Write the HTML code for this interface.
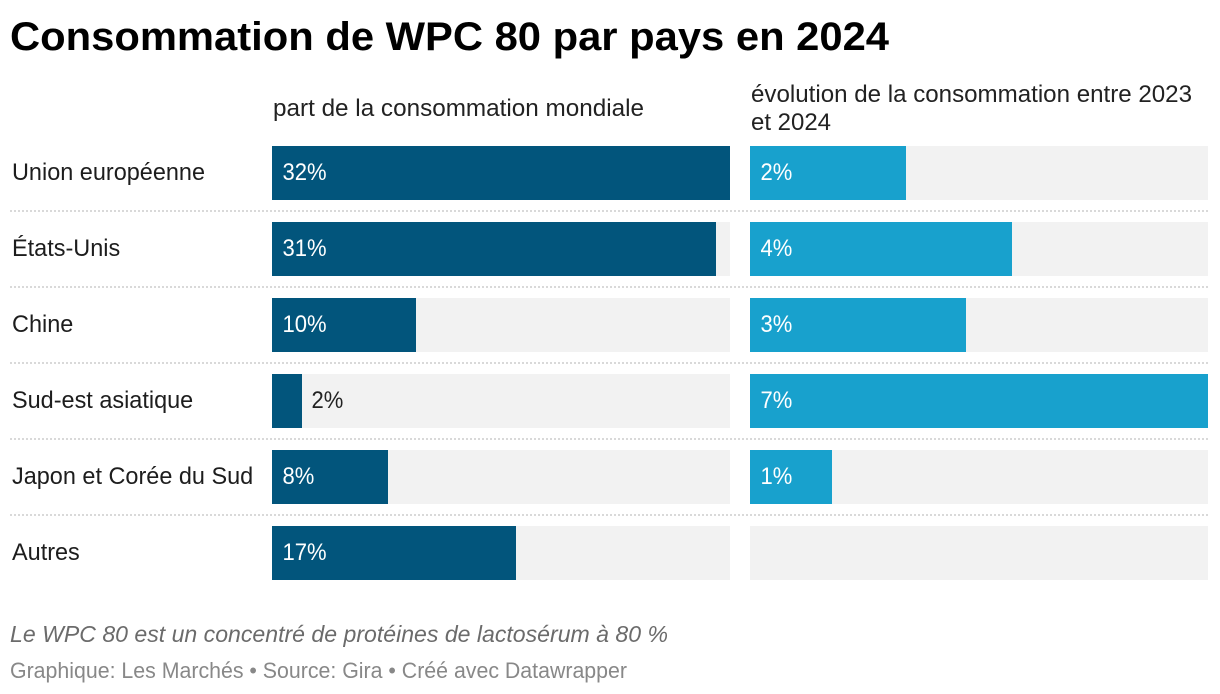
<!DOCTYPE html>
<html lang="fr">
<head>
<meta charset="utf-8">
<title>Consommation de WPC 80 par pays en 2024</title>
<style>
  html, body { margin: 0; padding: 0; background: #ffffff; }
  body { width: 1220px; height: 694px; overflow: hidden; }
  svg { display: block; font-family: "Liberation Sans", Arial, sans-serif; }
</style>
</head>
<body>
<svg id="chart" xmlns="http://www.w3.org/2000/svg" width="1220" height="694" viewBox="0 0 1220 694">
  <text x="10" y="50" font-size="40" font-weight="700" fill="#000000" textLength="879" lengthAdjust="spacingAndGlyphs">Consommation de WPC 80 par pays en 2024</text>
  <text x="273" y="116" font-size="24" fill="#222222" textLength="371" lengthAdjust="spacingAndGlyphs">part de la consommation mondiale</text>
  <text x="751" y="102" font-size="24" fill="#222222" textLength="441" lengthAdjust="spacingAndGlyphs">évolution de la consommation entre 2023</text>
  <text x="751" y="130" font-size="24" fill="#222222" textLength="80" lengthAdjust="spacingAndGlyphs">et 2024</text>
  <g id="rows"></g>
  <text x="10" y="642" font-size="23" font-style="italic" fill="#6b6b6b" textLength="658" lengthAdjust="spacingAndGlyphs">Le WPC 80 est un concentré de protéines de lactosérum à 80 %</text>
  <text x="10" y="678" font-size="22" fill="#888888" textLength="617" lengthAdjust="spacingAndGlyphs">Graphique: Les Marchés • Source: Gira • Créé avec Datawrapper</text>
</svg>
<script>
const categories = ["Union européenne", "États-Unis", "Chine", "Sud-est asiatique", "Japon et Corée du Sud", "Autres"];
const shareValues = [32, 31, 10.06, 2.1, 8.1, 17.05];
const shareLabels = ["32%", "31%", "10%", "2%", "8%", "17%"];
const growthValues = [2.38, 4, 3.3, 7, 1.25, null];
const growthLabels = ["2%", "4%", "3%", "7%", "1%", ""];

const NS = "http://www.w3.org/2000/svg";
const rowsLayer = document.getElementById("rows");
const rowTop = 146, rowStep = 76, barHeight = 54;
const shareLeft = 272, growthLeft = 750, panelWidth = 458;
const shareMax = Math.max(...shareValues);
const growthMax = Math.max(...growthValues.filter(v => v !== null));

function shareX(v) { return Math.round(v / shareMax * panelWidth); }
function growthX(v) { return Math.round(v / growthMax * panelWidth); }
function rowY(i) { return rowTop + i * rowStep; }

function makeRect(x, y, w, h, fill) {
  const r = document.createElementNS(NS, "rect");
  r.setAttribute("x", x);
  r.setAttribute("y", y);
  r.setAttribute("width", w);
  r.setAttribute("height", h);
  r.setAttribute("fill", fill);
  r.setAttribute("shape-rendering", "crispEdges");
  rowsLayer.appendChild(r);
  return r;
}

function makeText(str, x, y, fill, fit) {
  const t = document.createElementNS(NS, "text");
  t.setAttribute("x", x);
  t.setAttribute("y", y);
  t.setAttribute("font-size", "24");
  t.setAttribute("fill", fill);
  t.textContent = str;
  rowsLayer.appendChild(t);
  const natural = t.getComputedTextLength();
  t.setAttribute("textLength", (natural * fit).toFixed(1));
  t.setAttribute("lengthAdjust", "spacingAndGlyphs");
  return t;
}

function drawValueLabel(str, barStart, barWidth, y) {
  const inside = barWidth > 50;
  const x = inside ? barStart + 10.5 : barStart + barWidth + 9.5;
  return makeText(str, x, y, inside ? "#ffffff" : "#222222", 0.917);
}

categories.forEach((name, i) => {
  const y = rowY(i);
  const baseline = y + 34;

  const rowLabel = makeText(name, 12, baseline, "#1d1d1d", 0.977);
  
  

  const shareTrack = makeRect(shareLeft, y, panelWidth, barHeight, "#f2f2f2");
  
  

  const shareW = shareX(shareValues[i]);
  const shareBar = makeRect(shareLeft, y, shareW, barHeight, "#02557c");
  
  

  const shareText = drawValueLabel(shareLabels[i], shareLeft, shareW, baseline);
  
  

  const growthTrack = makeRect(growthLeft, y, panelWidth, barHeight, "#f2f2f2");
  
  

  if (growthValues[i] !== null) {
    const growthW = growthX(growthValues[i]);
    const growthBar = makeRect(growthLeft, y, growthW, barHeight, "#18a1cd");
    
    

    const growthText = drawValueLabel(growthLabels[i], growthLeft, growthW, baseline);
    
    
  }

  if (i < categories.length - 1) {
    const sep = document.createElementNS(NS, "line");
    sep.setAttribute("x1", 10);
    sep.setAttribute("x2", growthLeft + panelWidth);
    sep.setAttribute("y1", y + barHeight + 11);
    sep.setAttribute("y2", y + barHeight + 11);
    sep.setAttribute("stroke", "#d9d9d9");
    sep.setAttribute("stroke-width", "2");
    sep.setAttribute("stroke-dasharray", "2 2");
    sep.setAttribute("shape-rendering", "crispEdges");
    
    
    rowsLayer.appendChild(sep);
  }
});
</script>
</body>
</html>
